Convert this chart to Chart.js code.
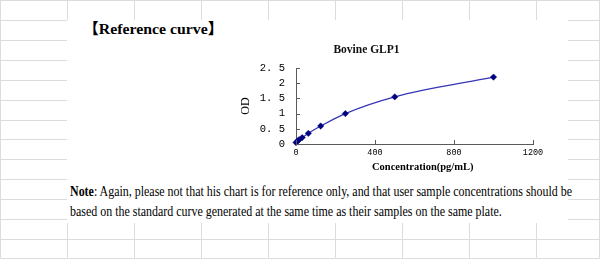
<!DOCTYPE html>
<html>
<head>
<meta charset="utf-8">
<script src="https://cdn.jsdelivr.net/npm/chart.js@4.4.0/dist/chart.umd.min.js"></script>
<style>
  html, body { margin: 0; padding: 0; background: #fff; }
  #page { position: relative; width: 600px; height: 259px; overflow: hidden; background: #fff; }
  .gl { position: absolute; background: #dcdcdc; }
  #box { position: absolute; left: 67px; top: 20px; width: 501px; height: 203px; background: #fff; }
  .txt { position: absolute; white-space: nowrap; color: #000; transform-origin: 0 50%; }
  #header { left: 83px; top: 17px; font: bold 15px "Liberation Serif", "Noto Sans CJK SC", serif; }
  #note1 { left: 70px; top: 183px; font: 14.5px "Liberation Serif", serif; }
  #note2 { left: 70px; top: 203px; font: 14.5px "Liberation Serif", serif; }
  #chartWrap { position: absolute; left: 200px; top: 30px; width: 404px; height: 150px; }
</style>
</head>
<body>
<div id="page">
  <div id="grid"></div>
  <div id="box"></div>
  <div id="header" class="txt"><span style="font-family:'Noto Sans CJK SC';font-weight:bold">【</span>Reference curve<span style="font-family:'Noto Sans CJK SC';font-weight:bold">】</span></div>
  <div id="note1" class="txt"><b>Note</b>: Again, please not that his chart is for reference only, and that user sample concentrations should be</div>
  <div id="note2" class="txt">based on the standard curve generated at the same time as their samples on the same plate.</div>
  <div id="chartWrap"><canvas id="c" width="404" height="150"></canvas></div>
</div>
<script>
// ---- data ----
const chartTitle = "Bovine GLP1";
const xAxisTitle = "Concentration(pg/mL)";
const yAxisTitle = "OD";
const concentrations = [0, 7.8, 15.6, 31.25, 62.5, 125, 250, 500, 1000];
const odValues = [0.05, 0.09, 0.14, 0.21, 0.35, 0.59, 1.0, 1.55, 2.2];
const yTicks = [0, 0.5, 1, 1.5, 2, 2.5];
const xTicks = [0, 400, 800, 1200];

// ---- spreadsheet grid background ----
(function () {
  const g = document.getElementById('grid');
  function line(x, y, w, h) {
    const d = document.createElement('div');
    d.className = 'gl';
    d.style.left = x + 'px'; d.style.top = y + 'px';
    d.style.width = w + 'px'; d.style.height = h + 'px';
    g.appendChild(d);
  }
  for (let i = 1; i <= 8; i++) line(Math.round(67.05 * i), 0, 1, 259);
  for (let j = 1; j <= 12; j++) line(0, Math.round(19.92 * j), 600, 1);
  line(0, 0, 600, 1); line(0, 258, 600, 1); line(0, 0, 1, 259); line(599, 0, 1, 259);
})();

// ---- fit text widths ----
function fit(id, w) {
  const el = document.getElementById(id);
  const r = el.scrollWidth;
  el.style.transform = 'scaleX(' + (w / r) + ')';
  return w / r;
}
fit('header', 140);
const s = fit('note1', 502);
document.getElementById('note2').style.transform = 'scaleX(' + s + ')';

// ---- chart ----
const insideTicks = {
  id: 'insideTicks',
  afterDraw(chart) {
    const ctx = chart.ctx;
    const xs = chart.scales.x, ys = chart.scales.y;
    const a = chart.chartArea;
    ctx.save();
    ctx.strokeStyle = '#5a5a5a';
    ctx.lineWidth = 1;
    ctx.beginPath();
    yTicks.forEach(v => {
      const py = Math.round(ys.getPixelForValue(v)) + 0.5;
      ctx.moveTo(a.left, py); ctx.lineTo(a.left + 4, py);
    });
    xTicks.forEach(v => {
      const px = Math.round(xs.getPixelForValue(v)) + 0.5;
      ctx.moveTo(px, a.bottom); ctx.lineTo(px, a.bottom - 4);
    });
    ctx.stroke();
    // x axis title
    ctx.fillStyle = '#000';
    ctx.font = 'bold 10.5px "Liberation Serif", serif';
    ctx.textAlign = 'left';
    ctx.textBaseline = 'middle';
    ctx.fillText(xAxisTitle, a.left + 76, a.bottom + 23);
    ctx.restore();
  }
};

new Chart(document.getElementById('c'), {
  type: 'scatter',
  data: {
    datasets: [{
      data: concentrations.map((x, i) => ({ x: x, y: odValues[i] })),
      showLine: true,
      borderColor: '#3535b5',
      borderWidth: 1.2,
      backgroundColor: '#000080',
      pointBackgroundColor: '#000080',
      pointBorderColor: '#000080',
      pointStyle: 'rectRot',
      pointRadius: 3.2,
      pointBorderWidth: 0.5,
      cubicInterpolationMode: 'monotone',
      clip: false
    }]
  },
  options: {
    responsive: false,
    animation: false,
    layout: { padding: { left: 0, right: 71, top: 0, bottom: 0 } },
    plugins: {
      legend: { display: false },
      tooltip: { enabled: false },
      title: {
        display: true,
        text: chartTitle,
        color: '#111',
        font: { family: 'Liberation Serif', size: 11.5, weight: 'bold', lineHeight: 1.2 },
        padding: { top: 13, bottom: 11.2 }
      }
    },
    scales: {
      x: {
        type: 'linear',
        min: 0, max: 1200,
        afterFit: sc => { sc.height = 36; },
        afterBuildTicks: sc => { sc.ticks = xTicks.map(v => ({ value: v })); },
        grid: { display: true, drawOnChartArea: false, drawTicks: false },
        border: { display: true, color: '#5a5a5a', width: 1 },
        ticks: {
          padding: 4,
          autoSkip: false,
          color: '#000',
          font: { family: 'Liberation Mono', size: 8.5 },
          maxRotation: 0,
          callback: v => String(v)
        }
      },
      y: {
        type: 'linear',
        min: 0, max: 2.5,
        afterFit: sc => { sc.width = 96; },
        afterBuildTicks: sc => { sc.ticks = yTicks.map(v => ({ value: v })); },
        grid: { display: true, drawOnChartArea: false, drawTicks: false },
        border: { display: true, color: '#5a5a5a', width: 1 },
        title: {
          display: true,
          text: yAxisTitle,
          color: '#000',
          font: { family: 'Liberation Serif', size: 12 },
          padding: { top: 39, bottom: 0 }
        },
        ticks: {
          padding: 11,
          autoSkip: false,
          color: '#000',
          font: { family: 'Liberation Mono', size: 10.5 },
          callback: v => String(v).replace('.', '. ')
        }
      }
    }
  },
  plugins: [insideTicks]
});
</script>
</body>
</html>
